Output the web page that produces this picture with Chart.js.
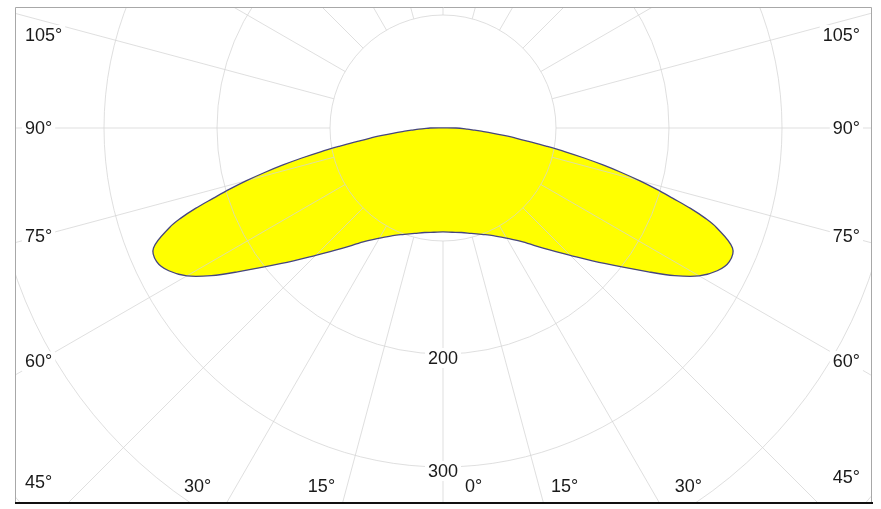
<!DOCTYPE html>
<html><head><meta charset="utf-8">
<script src="https://cdn.jsdelivr.net/npm/chart.js@4/dist/chart.umd.min.js"></script>
<style>html,body{margin:0;padding:0;background:#fff}</style>
</head><body>
<canvas id="c" width="881" height="509"></canvas>
<script>
// ---- data ----
const gammaDeg    = [0, 5, 10, 15, 20, 25, 30, 35, 40, 45, 50, 55, 57.5, 60, 62.5, 65, 67.5, 70, 71, 72, 73, 74, 75, 76, 77, 78, 79, 80, 81, 82, 83, 84, 85, 86, 87.5, 90];
const intensityCd = [92, 92.6, 93.9, 96.6, 100.2, 105, 112.6, 123.1, 139.1, 159.3, 186.5, 221.9, 243.1, 261.7, 273.6, 279.6, 277.3, 257.5, 245.7, 230.3, 212.4, 196.4, 180, 162.7, 145.3, 127.7, 110.3, 92.6, 77.5, 65.7, 54.3, 44.7, 36.1, 28.2, 21.4, 11.5];
const circleValues = [100, 200, 300, 400, 500];
const radiusLabelValues = [200, 300];
const sideAngleLabels = [105, 90, 75, 60, 45];
const bottomAngleLabels = [30, 15, 0];
const spokeStepDeg = 15;

// ---- layout ----
const FRAME = {left: 15, top: 7, right: 872, bottom: 502};
const CENTER_PX = {x: 443, y: 128};
const PX_PER_CD = 1.13;
const bottomGap = {30: 25, 15: 12, 0: 22};
const FONT = '18px "Liberation Sans", Arial, sans-serif';

// polar -> cartesian (gamma measured from straight down)
const rad = d => d * Math.PI / 180;
const pts = [];
for (let i = gammaDeg.length - 1; i >= 0; i--) {
  pts.push({x: -intensityCd[i] * Math.sin(rad(gammaDeg[i])), y: -intensityCd[i] * Math.cos(rad(gammaDeg[i]))});
}
for (let i = 1; i < gammaDeg.length; i++) {
  pts.push({x: intensityCd[i] * Math.sin(rad(gammaDeg[i])), y: -intensityCd[i] * Math.cos(rad(gammaDeg[i]))});
}
pts.push({x: pts[0].x, y: pts[0].y});

const polarGrid = {
  id: 'polarGrid',
  beforeDraw(chart) {
    const ctx = chart.ctx;
    ctx.save(); ctx.fillStyle = '#fff'; ctx.fillRect(0, 0, chart.width, chart.height); ctx.restore();
  },
  afterDatasetDraw(chart, args) {
    if (args.index !== 0) return;
    const {ctx, chartArea: a, scales: {x, y}} = chart;
    const cx = x.getPixelForValue(0), cy = y.getPixelForValue(0);
    const kx = (x.getPixelForValue(100) - cx) / 100, ky = (cy - y.getPixelForValue(100)) / 100;
    ctx.save();
    ctx.beginPath(); ctx.rect(a.left, a.top, a.right - a.left, a.bottom - a.top); ctx.clip();
    ctx.strokeStyle = 'rgba(212,212,212,0.75)';
    ctx.lineWidth = 1;
    circleValues.forEach(v => {
      ctx.beginPath(); ctx.ellipse(cx, cy, kx * v, ky * v, 0, 0, Math.PI * 2); ctx.stroke();
    });
    const r0 = circleValues[0], r1 = 3000;
    for (let d = 0; d < 360; d += spokeStepDeg) {
      const s = Math.sin(rad(d)), c = Math.cos(rad(d));
      ctx.beginPath();
      ctx.moveTo(x.getPixelForValue(r0 * s), y.getPixelForValue(-r0 * c));
      ctx.lineTo(x.getPixelForValue(r1 * s), y.getPixelForValue(-r1 * c));
      ctx.stroke();
    }
    ctx.restore();
  },
  afterDraw(chart) {
    const {ctx, chartArea: a, scales: {x, y}} = chart;
    const cx = x.getPixelForValue(0), cy = y.getPixelForValue(0);
    const kx = (x.getPixelForValue(100) - cx) / 100, ky = (cy - y.getPixelForValue(100)) / 100;
    ctx.save();
    // frame
    ctx.strokeStyle = '#a8a8a8'; ctx.lineWidth = 1;
    ctx.beginPath();
    ctx.moveTo(a.left + 0.5, a.bottom); ctx.lineTo(a.left + 0.5, a.top + 0.5);
    ctx.lineTo(a.right - 0.5, a.top + 0.5); ctx.lineTo(a.right - 0.5, a.bottom);
    ctx.stroke();
    ctx.strokeStyle = '#111'; ctx.lineWidth = 2;
    ctx.beginPath(); ctx.moveTo(a.left, a.bottom + 1); ctx.lineTo(a.right + 1, a.bottom + 1); ctx.stroke();

    ctx.font = FONT; ctx.textBaseline = 'middle';
    const label = (txt, px, py, align) => {
      const w = ctx.measureText(txt).width;
      let lx = align === 'left' ? px : align === 'right' ? px - w : px - w / 2;
      ctx.fillStyle = '#fff';
      ctx.fillRect(lx - 3, py - 10, w + 6, 20);
      ctx.fillStyle = '#1a1a1a';
      ctx.textAlign = 'left';
      ctx.fillText(txt, lx, py + 1);
    };
    // side labels
    sideAngleLabels.forEach(g => {
      const txt = g + '°';
      const w = ctx.measureText(txt).width;
      [-1, 1].forEach(side => {
        const edge = side < 0 ? a.left + 10 : a.right - 12;
        const mid = side < 0 ? edge + w / 2 : edge - w / 2;
        const dx = Math.abs(mid - cx);
        const s = Math.sin(rad(g)), c = Math.cos(rad(g));
        let py = cy + dx / (s * kx) * c * ky;
        py = Math.max(a.top + 28, Math.min(a.bottom - (side < 0 ? 20 : 25), py));
        label(txt, edge, py, side < 0 ? 'left' : 'right');
      });
    });
    // bottom labels
    const by = a.bottom - 16;
    bottomAngleLabels.forEach(g => {
      const txt = g + '°';
      const dx = (by - cy) * Math.tan(rad(g)) * kx / ky;
      const gap = bottomGap[g];
      if (g !== 0) label(txt, cx - dx - gap, by, 'right');
      label(txt, cx + dx + gap, by, 'left');
    });
    // radius labels
    radiusLabelValues.forEach(v => label(String(v), cx, cy + v * ky + 4, 'center'));
    ctx.restore();
  }
};

new Chart(document.getElementById('c'), {
  type: 'scatter',
  data: {
    datasets: [
      {label: 'fill', data: pts, showLine: true, fill: 'shape', backgroundColor: '#ffff00',
       borderWidth: 0, borderColor: 'rgba(0,0,0,0)', pointRadius: 0, tension: 0.35, order: 2},
      {label: 'outline', data: pts, showLine: true, fill: false, borderColor: '#45457f',
       borderWidth: 1.3, pointRadius: 0, tension: 0.35, order: 1}
    ]
  },
  options: {
    responsive: false, devicePixelRatio: 1, animation: false,
    layout: {padding: {left: FRAME.left, top: FRAME.top, right: 881 - FRAME.right, bottom: 509 - FRAME.bottom}},
    plugins: {legend: {display: false}, tooltip: {enabled: false}},
    scales: {
      x: {type: 'linear', display: false,
          min: -(CENTER_PX.x - FRAME.left) / PX_PER_CD, max: (FRAME.right - CENTER_PX.x) / PX_PER_CD},
      y: {type: 'linear', display: false,
          min: -(FRAME.bottom - CENTER_PX.y) / PX_PER_CD, max: (CENTER_PX.y - FRAME.top) / PX_PER_CD}
    }
  },
  plugins: [polarGrid]
});
</script>
</body></html>
